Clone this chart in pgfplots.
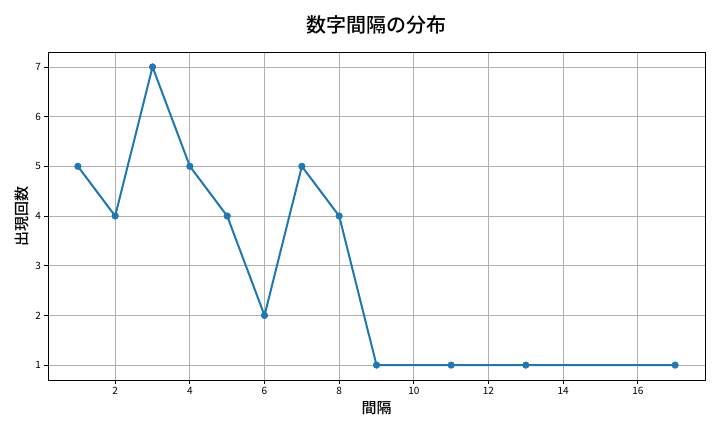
\documentclass[border=0pt]{standalone}
\usepackage{pgfplots}
\pgfplotsset{compat=1.18}
\usepackage{fontspec}
\setmainfont{Noto Sans CJK JP}[BoldFont={Noto Sans CJK JP Medium}]
\definecolor{tabblue}{HTML}{1F77B4}
\begin{document}
\begin{tikzpicture}[x=1pt,y=1pt]
\useasboundingbox[fill=white] (0,0) rectangle (720,432);
\begin{axis}[
  at={(48pt,52pt)}, anchor=south west,
  scale only axis, width=657pt, height=328pt,
  xmin=0.2, xmax=17.8, ymin=0.7, ymax=7.3,
  xtick={2,4,...,16}, ytick={1,...,7},
  grid=major, grid style={color=black!31, line width=0.8pt},
  axis line style={line width=0.8pt},
  tick align=outside, tick style={black, line width=0.8pt}, major tick length=3.5pt,
  xtick pos=bottom, ytick pos=left,
  ticklabel style={font=\fontsize{10}{12}\selectfont},
  /pgf/number format/assume math mode=true,
  title={数字間隔の分布},
  title style={font=\fontsize{20}{24}\selectfont\bfseries, yshift=8pt},
  xlabel={間隔}, ylabel={出現回数},
  xlabel style={font=\fontsize{15}{18}\selectfont\bfseries},
  ylabel style={font=\fontsize{15}{18}\selectfont\bfseries},
]
\addplot[color=tabblue, line width=2pt, mark=*, mark size=3.3pt, mark options={fill=tabblue, draw=tabblue, line width=0.5pt}]
coordinates {(1,5) (2,4) (3,7) (4,5) (5,4) (6,2) (7,5) (8,4) (9,1) (11,1) (13,1) (17,1)};
\end{axis}
\end{tikzpicture}
\end{document}
